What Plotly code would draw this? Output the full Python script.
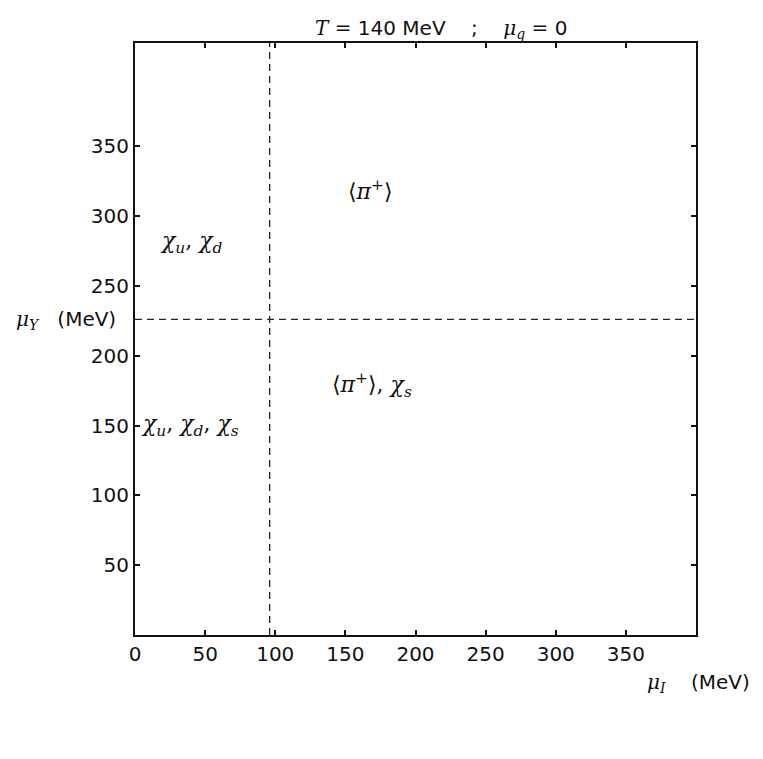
import plotly.graph_objects as go

# boundaries (MeV)
mu_I_boundary = 96
mu_Y_boundary = 226
x_range = [0, 400]
y_range = [0, 424]

# region labels
region_labels = [
    "⟨<i>π</i><sup>+</sup>⟩",
    "<i>χ<sub>u</sub></i>, <i>χ<sub>d</sub></i>",
    "⟨<i>π</i><sup>+</sup>⟩, <i>χ<sub>s</sub></i>",
    "<i>χ<sub>u</sub></i>, <i>χ<sub>d</sub></i>, <i>χ<sub>s</sub></i>",
]
region_x = [168, 40, 169, 39]
region_y = [319, 281, 179, 150]

x_ticks = [0, 50, 100, 150, 200, 250, 300, 350]
y_ticks = [50, 100, 150, 200, 250, 300, 350]

SANS = "DejaVu Sans"
SERIF = "DejaVu Serif"

# page has an 8px body margin; figure sized to fit the window
OFF = 8
W, H = 763 - OFF, 759 - OFF
L, R, T, B = 135 - OFF, 67, 43 - OFF, 124
pw, ph = W - L - R, H - T - B


def px_to_paper(x, y):
    return (x - OFF - L) / pw, (H - B - (y - OFF)) / ph


fig = go.Figure()
fig.add_trace(go.Scatter(x=[mu_I_boundary, mu_I_boundary], y=y_range, mode="lines",
                         line=dict(color="#222", width=1.3, dash="7px,5px"), showlegend=False))
fig.add_trace(go.Scatter(x=x_range, y=[mu_Y_boundary, mu_Y_boundary], mode="lines",
                         line=dict(color="#222", width=1.3, dash="7px,5px"), showlegend=False))

for t, x, y in zip(region_labels, region_x, region_y):
    fig.add_annotation(x=x, y=y, xref="x", yref="y", text=t, showarrow=False,
                       xanchor="center", yanchor="middle",
                       font=dict(family=SERIF, size=22, color="#111"))

tx, ty = px_to_paper(441, 29)
fig.add_annotation(x=tx, y=ty, xref="paper", yref="paper", xanchor="center", yanchor="middle",
                   text=f"<span style='font-family:{SERIF}'><i>T</i> =</span> 140 MeV    ;    "
                        f"<span style='font-family:{SERIF}'><i>μ<sub>q</sub></i> =</span> 0",
                   showarrow=False, font=dict(family=SANS, size=20, color="#111"))

ax_, ay_ = px_to_paper(752, 683)
fig.add_annotation(x=ax_, y=ay_, xref="paper", yref="paper", xanchor="right", yanchor="middle",
                   showarrow=False,
                   text=f"<span style='font-family:{SERIF}'><i>μ<sub>I</sub></i></span>    (MeV)",
                   font=dict(family=SANS, size=20, color="#111"))

yx_, yy_ = px_to_paper(14, 320)
fig.add_annotation(x=yx_, y=yy_, xref="paper", yref="paper", xanchor="left", yanchor="middle",
                   showarrow=False,
                   text=f"<span style='font-family:{SERIF}'><i>μ<sub>Y</sub></i></span>   (MeV)",
                   font=dict(family=SANS, size=20, color="#111"))

axis_common = dict(showgrid=False, zeroline=False, showline=True, linecolor="#111", linewidth=2,
                   mirror="ticks", ticks="inside", ticklen=5, tickwidth=1.5, tickcolor="#111",
                   tickfont=dict(family=SANS, size=20, color="#111"))
fig.update_xaxes(range=x_range, tickvals=x_ticks, **axis_common)
fig.update_yaxes(range=y_range, tickvals=y_ticks, **axis_common)

fig.update_layout(width=W, height=H, margin=dict(l=L, r=R, t=T, b=B, autoexpand=False),
                  plot_bgcolor="white", paper_bgcolor="white", showlegend=False)
fig.write_html("out.html")
